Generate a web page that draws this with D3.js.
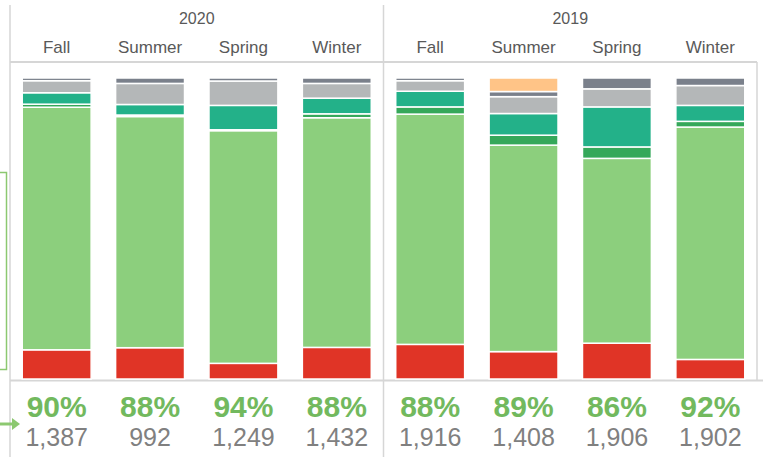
<!DOCTYPE html>
<html>
<head>
<meta charset="utf-8">
<script src="https://cdn.jsdelivr.net/npm/d3@7"></script>
<style>
  body { margin: 0; background: #fff; }
  text { font-family: "Liberation Sans", Arial, sans-serif; }
</style>
</head>
<body>
<script>
// columns, newest year first
const years = ["2020", "2019"];
const seasons = ["Fall", "Summer", "Spring", "Winter", "Fall", "Summer", "Spring", "Winter"];
const columnYear = ["2020", "2020", "2020", "2020", "2019", "2019", "2019", "2019"];
const pctLabels = ["90%", "88%", "94%", "88%", "88%", "89%", "86%", "92%"];
const counts = ["1,387", "992", "1,249", "1,432", "1,916", "1,408", "1,906", "1,902"];

// share of each bar (%), bottom to top
const red       = [9.7, 10.4, 5.2, 10.5, 11.5, 9.1, 11.9, 6.5];
const lightGrn  = [80.6, 76.8, 77.3, 76.3, 76.5, 68.6, 61.4, 77.2];
const darkGrn   = [1.0, 0.5, 0.3, 1.3, 2.4, 3.3, 3.8, 1.9];
const teal      = [3.8, 3.5, 8.1, 5.2, 5.2, 7.2, 13.3, 5.3];
const lightGrey = [4.0, 7.0, 8.1, 4.9, 3.5, 5.6, 6.0, 6.6];
const darkGrey  = [0.9, 1.8, 1.0, 1.8, 0.9, 1.7, 3.6, 2.5];
const orange    = [0, 0, 0, 0, 0, 4.5, 0, 0];

const seriesKeys = ["red", "lightGrn", "darkGrn", "teal", "lightGrey", "darkGrey", "orange"];
const seriesVals = [red, lightGrn, darkGrn, teal, lightGrey, darkGrey, orange];
const colors = ["#e03426", "#8ccf7d", "#35a85a", "#23b189", "#b4b7b8", "#7a808b", "#ffc487"];

const W = 763, H = 457;
const svg = d3.select("body").append("svg")
    .attr("width", W)
    .attr("height", H);

const cols = seasons.map((s, i) => i);
const x = d3.scaleBand().domain(cols).range([10, 757]).paddingInner(0.262).paddingOuter(0.131);
const y = d3.scaleLinear().domain([0, 100]).range([379, 78]);

// table built from the arrays for d3.stack
const table = cols.map(i => {
    const row = { col: i };
    seriesKeys.forEach((k, j) => row[k] = seriesVals[j][i]);
    return row;
});
const stacked = d3.stack().keys(seriesKeys)(table);

// frame lines
const lineCol = "#d6d6d6";
const mid = x.step() * 4 + 10;
svg.append("line").attr("x1", 10).attr("x2", 757).attr("y1", 62).attr("y2", 62)
    .attr("stroke", lineCol).attr("stroke-width", 2);
svg.append("line").attr("x1", 10).attr("x2", 763).attr("y1", 380.5).attr("y2", 380.5)
    .attr("stroke", lineCol).attr("stroke-width", 2);
svg.append("line").attr("x1", 10).attr("x2", 10).attr("y1", 5).attr("y2", H)
    .attr("stroke", lineCol).attr("stroke-width", 1.5);
svg.append("line").attr("x1", mid).attr("x2", mid).attr("y1", 5).attr("y2", H)
    .attr("stroke", lineCol).attr("stroke-width", 1.5);
svg.append("line").attr("x1", 757).attr("x2", 757).attr("y1", 62).attr("y2", 380)
    .attr("stroke", lineCol).attr("stroke-width", 1.5);

// partial callout box at the left edge
svg.append("rect").attr("x", -10).attr("y", 172.5).attr("width", 16.5).attr("height", 197)
    .attr("fill", "none").attr("stroke", "#8cc870").attr("stroke-width", 1.5);

// arrow at the left edge
svg.append("line").attr("x1", 0).attr("x2", 14).attr("y1", 424).attr("y2", 424)
    .attr("stroke", "#8cc870").attr("stroke-width", 3);
svg.append("path").attr("d", "M12,418 L20,424 L12,430 Z").attr("fill", "#8cc870");

// bars
svg.append("g").selectAll("g")
    .data(stacked)
    .enter().append("g")
    .attr("fill", (d, i) => colors[i])
    .selectAll("rect")
    .data(d => d)
    .enter().append("rect")
    .attr("x", d => x(d.data.col))
    .attr("width", x.bandwidth())
    .attr("y", d => y(d[1]))
    .attr("height", d => Math.max(0, y(d[0]) - y(d[1])))
    .attr("stroke", "#fff")
    .attr("stroke-width", d => (d[1] - d[0]) > 0 ? 1.5 : 0);

// year headers
years.forEach(yr => {
    const idx = columnYear.map((c, i) => c === yr ? i : -1).filter(i => i >= 0);
    const cx = (x(idx[0]) + x(idx[idx.length - 1]) + x.bandwidth()) / 2;
    svg.append("text").attr("x", cx).attr("y", 24)
        .attr("text-anchor", "middle").attr("font-size", 16).attr("fill", "#595959")
        .text(yr);
});

// season labels
svg.append("g").selectAll("text")
    .data(seasons)
    .enter().append("text")
    .attr("x", (d, i) => x(i) + x.bandwidth() / 2)
    .attr("y", 53)
    .attr("text-anchor", "middle").attr("font-size", 17).attr("fill", "#595959")
    .text(d => d);

// percent labels
svg.append("g").selectAll("text")
    .data(pctLabels)
    .enter().append("text")
    .attr("x", (d, i) => x(i) + x.bandwidth() / 2)
    .attr("y", 417)
    .attr("text-anchor", "middle").attr("font-size", 30).attr("font-weight", "bold")
    .attr("fill", "#72b95e")
    .text(d => d);

// counts
svg.append("g").selectAll("text")
    .data(counts)
    .enter().append("text")
    .attr("x", (d, i) => x(i) + x.bandwidth() / 2)
    .attr("y", 446)
    .attr("text-anchor", "middle").attr("font-size", 25).attr("fill", "#808080")
    .text(d => d);
</script>
</body>
</html>
